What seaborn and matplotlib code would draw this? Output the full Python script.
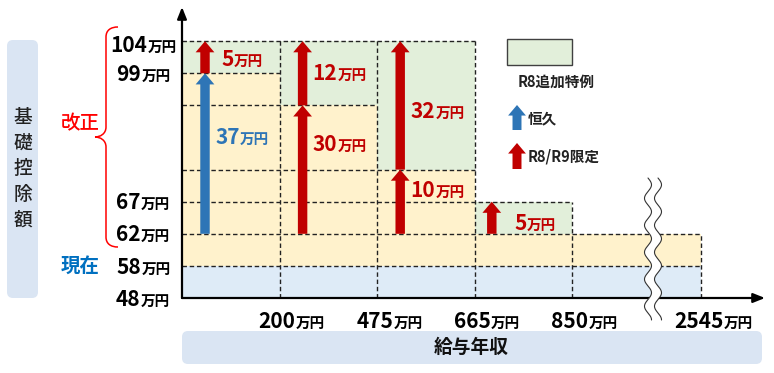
import numpy as np
import matplotlib
matplotlib.use("Agg")
import matplotlib.pyplot as plt
import seaborn as sns
from matplotlib.transforms import IdentityTransform, ScaledTranslation
from matplotlib.patches import FancyBboxPatch, Rectangle, Polygon, PathPatch, FancyArrowPatch
from matplotlib.path import Path

# ---------------- data ----------------
INCOME_EDGES = [0, 200, 475, 665, 850, 2545]          # 給与年収 (万円)
X_TICK_INCOMES = [200, 475, 665, 850, 2545]
Y_TICK_VALUES = [104, 99, 67, 62, 58, 48]             # 基礎控除額 (万円)
OLD_BASE = 48
CURRENT = 58
NEW_BASE = 62
YELLOW_TOP = [99, 92, 72, 62, 62]                     # 恒久 / R8・R9限定 の上限
GREEN_TOP = [104, 104, 104, 67, 62]                   # R8追加特例 の上限
IS_PERMANENT = [True, False, False, False, False]

# ---------------- layout ----------------
W, H = 774, 373
X_POS = [0, 1, 2, 3, 4, 5.32]
Y_LEVELS = [48, 58, 62, 67, 72, 92, 99, 104]
Y_POS = [0, 1, 2, 3, 4, 6, 7, 8]
X_STEP, Y_STEP = 97.6, 32.1
AX_L, AX_B, AX_W, AX_H = 182, H - 298, 583, 291

BLUE_FILL = "#DEEBF7"
YELLOW = "#FFF2CC"
GREEN = "#E2EFDA"
BOX = "#DAE5F3"
ARROW_BLUE = "#2E75B6"
RED = "#C00000"
LABEL_BLUE = "#2E75B6"

sns.set_theme(style="white")
plt.rcParams["font.family"] = ["Noto Sans CJK JP", "DejaVu Sans"]


def make_funcs(xp, fp):
    xp = np.asarray(xp, float)
    fp = np.asarray(fp, float)

    def interp(v, a, b):
        v = np.asarray(v, float)
        out = np.interp(v, a, b)
        hs = (b[-1] - b[-2]) / (a[-1] - a[-2])
        ls = (b[1] - b[0]) / (a[1] - a[0])
        out = np.where(v > a[-1], b[-1] + (v - a[-1]) * hs, out)
        out = np.where(v < a[0], b[0] + (v - a[0]) * ls, out)
        return out

    return (lambda v: interp(v, xp, fp)), (lambda v: interp(v, fp, xp))


fig = plt.figure(figsize=(W / 100, H / 100), dpi=100)
fig.patch.set_facecolor("white")
ax = fig.add_axes([AX_L / W, AX_B / H, AX_W / W, AX_H / H])
xf, xi = make_funcs(INCOME_EDGES, X_POS)
yf, yi = make_funcs(Y_LEVELS, Y_POS)
ax.set_xscale("function", functions=(xf, xi))
ax.set_yscale("function", functions=(yf, yi))
ax.set_xlim(0, float(xi(AX_W / X_STEP)))
ax.set_ylim(OLD_BASE, float(yi(AX_H / Y_STEP)))
ax.set_xticks([])
ax.set_yticks([])
ax.set_facecolor("none")
sns.despine(ax=ax, left=True, bottom=True)
ax.grid(False)

# ---------- filled bands ----------
ncol = len(YELLOW_TOP)
for i in range(ncol):
    left, right = INCOME_EDGES[i], INCOME_EDGES[i + 1]
    w = right - left
    ax.bar(left, CURRENT - OLD_BASE, width=w, bottom=OLD_BASE, align="edge",
           color=BLUE_FILL, lw=0, zorder=1)
    ax.bar(left, YELLOW_TOP[i] - CURRENT, width=w, bottom=CURRENT, align="edge",
           color=YELLOW, lw=0, zorder=1)
    if GREEN_TOP[i] > YELLOW_TOP[i]:
        ax.bar(left, GREEN_TOP[i] - YELLOW_TOP[i], width=w, bottom=YELLOW_TOP[i],
               align="edge", color=GREEN, lw=0, zorder=1)

# ---------- dashed grid ----------
dash_kw = dict(colors="#222222", linestyles=(0, (3.2, 2.0)), lw=1.0, zorder=2)
levels = sorted(set([CURRENT, NEW_BASE] + YELLOW_TOP + GREEN_TOP))
for L in levels:
    cols = [i for i in range(ncol) if YELLOW_TOP[i] >= L or GREEN_TOP[i] == L]
    ax.hlines(L, INCOME_EDGES[0], INCOME_EDGES[max(cols) + 1], **dash_kw)
for j in range(1, len(INCOME_EDGES)):
    adj = [GREEN_TOP[k] for k in (j - 1, j) if k < ncol]
    ax.vlines(INCOME_EDGES[j], OLD_BASE, max(adj), **dash_kw)

# ---------- arrows ----------
ARROW_STYLE = "simple,head_length=0.8,head_width=1.35,tail_width=0.68"
ARROW_DX = [23, 23, 23, 17, 17]


def up_arrow(trans, x, y0, y1, color):
    ax.annotate("", xy=(x, y1), xytext=(x, y0), xycoords=trans, textcoords=trans,
                arrowprops=dict(arrowstyle=ARROW_STYLE, fc=color, ec="none", lw=0,
                                shrinkA=0, shrinkB=0, mutation_scale=10),
                zorder=3, annotation_clip=False)


R = fig.canvas.get_renderer()


def two_part(xc, yc, num, color, nsize=15, usize=10.5, align="center"):
    t1 = fig.text(0, 0, num, transform=IdentityTransform(), fontsize=nsize,
                  fontweight="bold", color=color, ha="left", va="baseline", zorder=6)
    t2 = fig.text(0, 0, "万円", transform=IdentityTransform(), fontsize=usize,
                  fontweight="bold", color=color, ha="left", va="baseline", zorder=6)
    w1 = t1.get_window_extent(R).width
    w2 = t2.get_window_extent(R).width
    x0 = xc - (w1 + w2) / 2 if align == "center" else xc
    base = yc - 0.365 * nsize * 100 / 72
    t1.set_position((x0, base))
    t2.set_position((x0 + w1 + 0.5, base))


LABEL_Y = [[136, 58], [143, 72], [189, 110], [222], []]
for i in range(ncol):
    left = INCOME_EDGES[i]
    trans = ax.transData + ScaledTranslation(ARROW_DX[i] / 100, 0, fig.dpi_scale_trans)
    segs = []
    if YELLOW_TOP[i] > NEW_BASE:
        segs.append((NEW_BASE, YELLOW_TOP[i], ARROW_BLUE if IS_PERMANENT[i] else RED,
                     LABEL_BLUE if IS_PERMANENT[i] else RED))
    if GREEN_TOP[i] > YELLOW_TOP[i]:
        segs.append((YELLOW_TOP[i], GREEN_TOP[i], RED, RED))
    col_x = ax.transData.transform((left, OLD_BASE))[0]
    for k, (y0, y1, c, tc) in enumerate(segs):
        up_arrow(trans, left, y0, y1, c)
        two_part(col_x + 60, H - LABEL_Y[i][k], str(y1 - y0), tc)

# ---------- axes lines ----------
ax.annotate("", xy=(0, 1), xytext=(0, 0), xycoords="axes fraction",
            arrowprops=dict(arrowstyle="-|>,head_length=0.7,head_width=0.28", color="black",
                            lw=1.6, shrinkA=0, shrinkB=0, mutation_scale=10), zorder=4)
ax.annotate("", xy=(1, 0), xytext=(0, 0), xycoords="axes fraction",
            arrowprops=dict(arrowstyle="-|>,head_length=0.7,head_width=0.28", color="black",
                            lw=1.6, shrinkA=0, shrinkB=0, mutation_scale=10), zorder=4)

# ---------- tick labels ----------
for v in Y_TICK_VALUES:
    yd = ax.transData.transform((0, v))[1]
    two_part(143, yd + (-3 if v == 104 else 0), str(v), "black")
for v in X_TICK_INCOMES:
    xd = ax.transData.transform((v, OLD_BASE))[0]
    two_part(xd + 12, H - 320, str(v), "black")

# ---------- break mark ----------
ys = np.linspace(178, 320, 300)
wave = 3.5 * np.sin(2 * np.pi * (ys - 178) / 27)
x1 = 648 + wave
x2 = 658 + wave
poly = np.vstack([np.column_stack([x1, H - ys]), np.column_stack([x2[::-1], H - ys[::-1]])])
fig.patches.append(Polygon(poly, closed=True, fc="white", ec="none",
                           transform=IdentityTransform(), zorder=8))
for xx in (x1, x2):
    fig.lines.append(plt.Line2D(xx, H - ys, color="#333333", lw=0.8,
                                transform=IdentityTransform(), zorder=9))

# ---------- y label box ----------
fig.patches.append(FancyBboxPatch((7, H - 298), 31, 258, boxstyle="round,pad=0,rounding_size=6",
                                  fc=BOX, ec="none", transform=IdentityTransform(), zorder=0))
for k, ch in enumerate("基礎控除額"):
    fig.text(23, H - (117 + 25.7 * k), ch, transform=IdentityTransform(), fontsize=13.5,
             ha="center", va="center", color="#222222", fontweight="medium")

# ---------- x label box ----------
fig.patches.append(FancyBboxPatch((182, H - 364), 580, 33, boxstyle="round,pad=0,rounding_size=6",
                                  fc=BOX, ec="none", transform=IdentityTransform(), zorder=0))
fig.text(471, H - 347, "給与年収", transform=IdentityTransform(), fontsize=13.5,
         ha="center", va="center", color="#111111", fontweight="bold")

# ---------- 改正 / 現在 ----------
fig.text(80, H - 124, "改正", transform=IdentityTransform(), fontsize=14, ha="center",
         va="center", color="#FF0000", fontweight="medium")
fig.text(80, H - 266, "現在", transform=IdentityTransform(), fontsize=14, ha="center",
         va="center", color="#0070C0", fontweight="bold")

# brace
pts = [(118, 27), (111, 27), (106, 30), (106, 37),
       (106, 127),
       (106, 134), (100, 137), (95, 137),
       (100, 137), (106, 140), (106, 147),
       (106, 237),
       (106, 244), (111, 247), (118, 247)]
codes = [Path.MOVETO, Path.CURVE4, Path.CURVE4, Path.CURVE4,
         Path.LINETO,
         Path.CURVE4, Path.CURVE4, Path.CURVE4,
         Path.CURVE4, Path.CURVE4, Path.CURVE4,
         Path.LINETO,
         Path.CURVE4, Path.CURVE4, Path.CURVE4]
brace = Path([(x, H - y) for x, y in pts], codes)
fig.patches.append(PathPatch(brace, fc="none", ec="#FF0000", lw=1.1,
                             transform=IdentityTransform(), zorder=5))

# ---------- legend ----------
fig.patches.append(Rectangle((507, H - 65), 65, 26, fc=GREEN, ec="#404040", lw=1.0,
                             transform=IdentityTransform(), zorder=5))
fig.text(556, H - 82, "R8追加特例", transform=IdentityTransform(), fontsize=10.5,
         ha="center", va="center", color="#222222", fontweight="bold")
for (yb, yt, c, txt, ty) in [(130, 105, ARROW_BLUE, "恒久", 118),
                             (169, 143, RED, "R8/R9限定", 157)]:
    fig.patches.append(FancyArrowPatch((517, H - yb), (517, H - yt), arrowstyle=ARROW_STYLE,
                                       mutation_scale=9.5, fc=c, ec="none", lw=0,
                                       shrinkA=0, shrinkB=0, transform=IdentityTransform(),
                                       zorder=5))
    fig.text(528, H - ty, txt, transform=IdentityTransform(), fontsize=10.5, ha="left",
             va="center", color="#222222", fontweight="bold")

fig.savefig("out.png", dpi=100, facecolor="white")
